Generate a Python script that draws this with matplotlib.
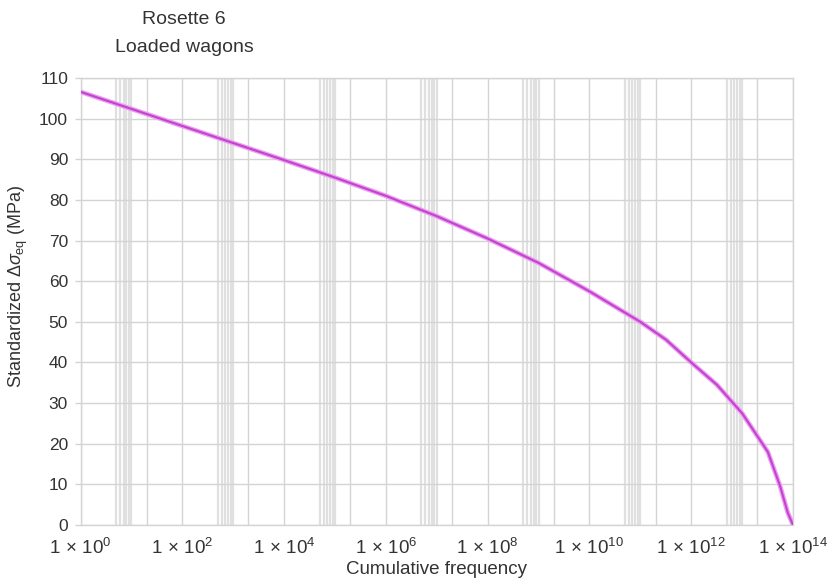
import numpy as np
import matplotlib
matplotlib.use("Agg")
import matplotlib.pyplot as plt
from matplotlib.ticker import FixedLocator, NullFormatter

plt.rcParams['font.family'] = ['Liberation Sans', 'DejaVu Sans']
plt.rcParams['mathtext.fontset'] = 'custom'
plt.rcParams['mathtext.rm'] = 'Liberation Sans'
plt.rcParams['mathtext.it'] = 'Liberation Sans:italic'
plt.rcParams['mathtext.bf'] = 'Liberation Sans:bold'

# data
cum_freq = [1.0, 1e1, 1e2, 1e3, 1e4, 1e5, 1e6, 1e7, 1e8, 1e9, 1e10, 1e11,
            3.2e11, 1e12, 3.2e12, 1e13, 3.2e13, 5.6e13, 7.9e13, 1.0e14]
stress = [106.6, 102.4, 98.2, 94.0, 89.8, 85.5, 81.0, 76.0, 70.5, 64.5, 57.5, 50.0,
          45.6, 40.0, 34.5, 27.5, 18.0, 9.5, 3.0, 0.0]

x_label_exps = [0, 2, 4, 6, 8, 10, 12, 14]
y_ticks = [0, 10, 20, 30, 40, 50, 60, 70, 80, 90, 100, 110]

TEXT = '#333333'
GRID = '#d4d4d4'

fig = plt.figure(figsize=(8.27, 5.81), dpi=100)
ax = fig.add_axes([80.5 / 827, 1 - 525 / 581, (793 - 80.5) / 827, (525 - 78) / 581])

ax.set_xscale('log')
ax.set_xlim(1, 1e14)
ax.set_ylim(0, 110)

# odd mathcad-style grid: dense block at 5..10, single line at 20 every two decades
for e in x_label_exps[:-1]:
    for m in [5, 6, 7, 8, 9, 10]:
        ax.axvline(m * 10.0 ** e, color='#e0e0e0', lw=1.6, zorder=0)
    ax.axvline(20 * 10.0 ** e, color=GRID, lw=1.0, zorder=0)
for e in x_label_exps:
    ax.axvline(10.0 ** e, color=GRID, lw=1.0, zorder=0)
for yv in y_ticks:
    ax.axhline(yv, color=GRID, lw=1.0, zorder=0)

ax.plot(cum_freq, stress, color='#ee9cf4', lw=3.4, solid_capstyle='round', zorder=3)
ax.plot(cum_freq, stress, color='#c044cc', lw=1.5, zorder=4)

ax.xaxis.set_major_locator(FixedLocator([10.0 ** e for e in x_label_exps]))
ax.xaxis.set_minor_locator(FixedLocator([]))
ax.xaxis.set_minor_formatter(NullFormatter())
ax.set_xticklabels([r'$1\,\times\,10^{%d}$' % e for e in x_label_exps])
ax.set_yticks(y_ticks)
ax.set_yticklabels([str(v) for v in y_ticks])

ax.tick_params(axis='x', length=0, pad=9, labelsize=13.5, colors=TEXT)
ax.tick_params(axis='y', length=4, width=1, color=GRID, pad=5, labelsize=12.5, labelcolor=TEXT)

for s in ax.spines.values():
    s.set_color(GRID)
    s.set_linewidth(1.0)

fig.text(184 / 827, 1 - 19 / 581, 'Rosette 6', ha='center', va='center',
         fontsize=14, color=TEXT)
fig.text(184 / 827, 1 - 47 / 581, 'Loaded wagons', ha='center', va='center',
         fontsize=14, color=TEXT)
fig.text(437 / 827, 1 - 569 / 581, 'Cumulative frequency', ha='center', va='center',
         fontsize=13.5, color=TEXT)
fig.text(18 / 827, 1 - 286 / 581, r'Standardized $\Delta\sigma_{\mathrm{eq}}$ (MPa)',
         ha='center', va='center', rotation=90, fontsize=13, color=TEXT)

fig.savefig('out.png', dpi=100)
